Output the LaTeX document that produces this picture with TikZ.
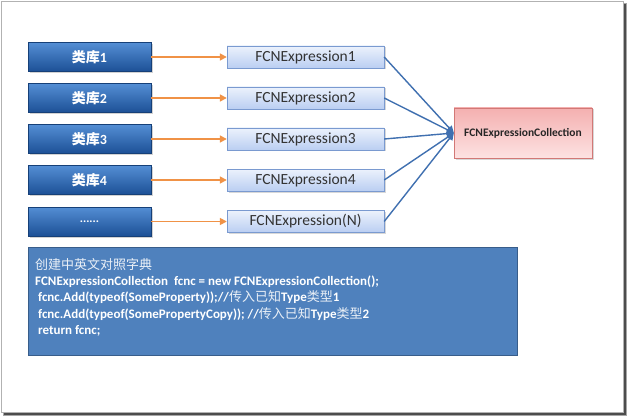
\documentclass[tikz,border=0pt]{standalone}
\usepackage{fontspec}
\setmainfont{Carlito}
\newfontfamily\cjk{Noto Sans CJK SC}
\usetikzlibrary{arrows.meta,shadows}
\definecolor{darkblueT}{RGB}{84,142,212}
\definecolor{darkblueB}{RGB}{28,80,150}
\definecolor{lightT}{RGB}{236,242,252}
\definecolor{lightB}{RGB}{186,206,242}
\definecolor{lightBorder}{RGB}{122,154,208}
\definecolor{pinkT}{RGB}{244,176,176}
\definecolor{pinkB}{RGB}{253,226,226}
\definecolor{pinkBorder}{RGB}{210,120,118}
\definecolor{codeFill}{RGB}{79,129,189}
\definecolor{codeBorder}{RGB}{56,93,138}
\definecolor{orangeLine}{RGB}{240,146,70}
\definecolor{blueLine}{RGB}{64,112,176}
\tikzset{
  libbox/.style={rectangle, minimum width=123pt, minimum height=29pt, inner sep=0pt,
    top color=darkblueT, bottom color=darkblueB, draw=darkblueB!80!black,
    text=white, font=\fontsize{14}{16}\selectfont\bfseries,
    drop shadow={shadow xshift=1.5pt, shadow yshift=-1.5pt, opacity=0.35}},
  exbox/.style={rectangle, minimum width=157pt, minimum height=22pt, inner sep=0pt,
    top color=lightT, bottom color=lightB, draw=lightBorder,
    text=black!80, font=\fontsize{15.5}{17}\selectfont,
    drop shadow={shadow xshift=1.5pt, shadow yshift=-1.5pt, opacity=0.3}},
  colbox/.style={rectangle, minimum width=138pt, minimum height=50pt, inner sep=0pt,
    top color=pinkT, bottom color=pinkB, draw=pinkBorder,
    text=black!85, font=\fontsize{11.5}{13}\selectfont,
    drop shadow={shadow xshift=1.5pt, shadow yshift=-1.5pt, opacity=0.3}},
  codebox/.style={rectangle, minimum width=489pt, minimum height=108pt, inner sep=0pt,
    fill=codeFill, draw=codeBorder, line width=0.8pt},
  orangearrow/.style={draw=orangeLine, line width=1.6pt, -{Triangle[length=7pt,width=7pt]}},
  bluearrow/.style={draw=blueLine, line width=1.4pt, -{Triangle[length=7pt,width=7pt]}},
}
\begin{document}
\begin{tikzpicture}[x=1pt,y=-1pt]
\useasboundingbox (0,0) rectangle (629,417);
% frame with shadow
\fill[black!35] (3,3) rectangle (627,416);
\fill[black!70] (4,4) rectangle (625.5,414.5);
\filldraw[fill=white, draw=black!30] (1,1) rectangle (623,412);

% left library boxes
\node[libbox] (l1) at (89.5,57) {{\cjk 类库}1};
\node[libbox] (l2) at (89.5,98) {{\cjk 类库}2};
\node[libbox] (l3) at (89.5,139) {{\cjk 类库}3};
\node[libbox] (l4) at (89.5,180) {{\cjk 类库}4};
\node[libbox, font=\fontsize{12}{14}\selectfont\bfseries] (l5) at (89.5,221.5) {......};

% expression boxes
\node[exbox] (e1) at (305.5,57) {FCNExpression1};
\node[exbox] (e2) at (305.5,98) {FCNExpression2};
\node[exbox] (e3) at (305.5,139) {FCNExpression3};
\node[exbox] (e4) at (305.5,180) {FCNExpression4};
\node[exbox] (e5) at (305.5,221.5) {FCNExpression(N)};

% collection box
\node[colbox] (c) at (523,133) {\bfseries FCNExpressionCollection};

% orange arrows
\foreach \i in {1,...,5} {
  \draw[orangearrow] (l\i.east) -- (e\i.west);
}
% blue arrows
\foreach \i in {1,...,5} {
  \draw[bluearrow] (e\i.east) -- (c.west);
}

% code box
\node[codebox] (code) at (272.5,301) {};
\node[anchor=north west, inner sep=0pt, text=white, align=left,
  font=\fontsize{13}{16.3}\selectfont] (codetext) at (35,258) {%
{\cjk\color{white!88!codeFill}创建中英文对照字典}\\
\textbf{FCNExpressionCollection\ \ fcnc = new FCNExpressionCollection();}\\
\ \textbf{fcnc.Add(typeof(SomeProperty));//}{\cjk\color{white!88!codeFill}传入已知}\textbf{Type}{\cjk\color{white!88!codeFill}类型}\textbf{1}\\
\ \textbf{fcnc.Add(typeof(SomePropertyCopy)); //}{\cjk\color{white!88!codeFill}传入已知}\textbf{Type}{\cjk\color{white!88!codeFill}类型}\textbf{2}\\
\ \textbf{return fcnc;}};
\end{tikzpicture}
\end{document}
